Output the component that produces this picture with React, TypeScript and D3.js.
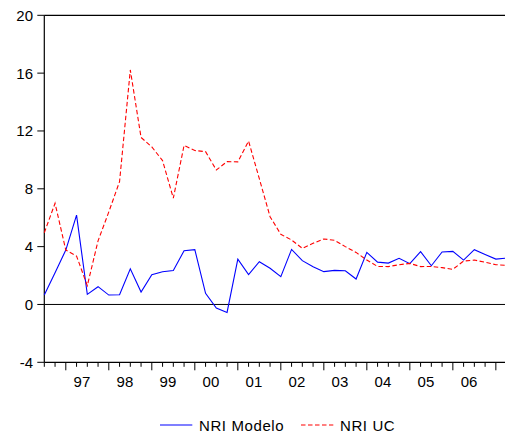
import React from "react";
import * as d3 from "d3";

// Quarterly observations, 1996Q3 through 2007Q2
const quarters: string[] = [
  "1996Q3", "1996Q4",
  "1997Q1", "1997Q2", "1997Q3", "1997Q4",
  "1998Q1", "1998Q2", "1998Q3", "1998Q4",
  "1999Q1", "1999Q2", "1999Q3", "1999Q4",
  "2000Q1", "2000Q2", "2000Q3", "2000Q4",
  "2001Q1", "2001Q2", "2001Q3", "2001Q4",
  "2002Q1", "2002Q2", "2002Q3", "2002Q4",
  "2003Q1", "2003Q2", "2003Q3", "2003Q4",
  "2004Q1", "2004Q2", "2004Q3", "2004Q4",
  "2005Q1", "2005Q2", "2005Q3", "2005Q4",
  "2006Q1", "2006Q2", "2006Q3", "2006Q4",
  "2007Q1", "2007Q2",
];

const nriModelo: number[] = [
  0.65, 2.2, 3.76, 6.18, 0.7, 1.23, 0.65, 0.67, 2.47, 0.86,
  2.06, 2.26, 2.35, 3.72, 3.79, 0.77, -0.25, -0.55, 3.14, 2.06,
  2.96, 2.5, 1.92, 3.81, 3.03, 2.61, 2.27, 2.36, 2.33, 1.76,
  3.6, 2.93, 2.86, 3.19, 2.82, 3.65, 2.68, 3.63, 3.67, 3.07,
  3.79, 3.46, 3.14, 3.21,
];

const nriUC: number[] = [
  4.96, 7.0, 3.76, 3.35, 1.3, 4.4, 6.4, 8.5, 16.22, 11.55,
  10.9, 9.95, 7.35, 11.0, 10.65, 10.57, 9.3, 9.88, 9.86, 11.3,
  8.7, 6.07, 4.85, 4.46, 3.88, 4.23, 4.53, 4.44, 4.0, 3.6,
  3.07, 2.63, 2.62, 2.75, 2.84, 2.62, 2.63, 2.55, 2.43, 3.0,
  3.07, 2.92, 2.75, 2.71,
];

const yTicks: number[] = [-4, 0, 4, 8, 12, 16, 20];
const yearLabels: string[] = ["97", "98", "99", "00", "01", "02", "03", "04", "05", "06"];

const seriesNames = ["NRI Modelo", "NRI UC"];

const W = 505;
const H = 436;
const left = 44.3;
const top = 15.3;
const bottom = 362.3;
const FONT = "'Liberation Sans', Arial, sans-serif";

export default function App() {
  const x = d3.scaleLinear().domain([0, quarters.length - 1]).range([left, 506.6]);
  const y = d3.scaleLinear().domain([-4, 20]).range([bottom, top]);

  const line = d3
    .line<number>()
    .x((_, i) => x(i))
    .y((d) => y(d));

  const right = x(quarters.length - 1);

  // First quarter of each year gets a long tick; year labels are centred over Q1..Q4
  const q1Index = quarters.map((q, i) => (q.endsWith("Q1") ? i : -1)).filter((i) => i >= 0);

  return (
    <svg
      width={W}
      height={H}
      style={{ position: "absolute", left: 0, top: 0, background: "#fff" }}
      fontFamily={FONT}
    >
      <rect x={0} y={0} width={W} height={H} fill="#fff" />
      {/* frame */}
      <line x1={left} x2={right} y1={top} y2={top} stroke="#000" strokeWidth={1.2} />
      <line x1={left} x2={left} y1={top} y2={bottom} stroke="#000" strokeWidth={1.2} />
      <line x1={left} x2={right} y1={bottom} y2={bottom} stroke="#000" strokeWidth={1.2} />
      <line x1={right} x2={right} y1={top} y2={bottom} stroke="#000" strokeWidth={1.2} />
      {/* zero line */}
      <line x1={left} x2={right} y1={y(0)} y2={y(0)} stroke="#000" strokeWidth={1} />

      {/* y axis */}
      {yTicks.map((t) => (
        <g key={t}>
          <line x1={left - 7} x2={left} y1={y(t)} y2={y(t)} stroke="#000" strokeWidth={1} />
          <text
            x={33}
            y={y(t)}
            textAnchor="end"
            dominantBaseline="central"
            fontSize={15}
            fill="#000"
          >
            {t}
          </text>
        </g>
      ))}

      {/* x axis ticks */}
      {quarters.map((q, i) => {
        const major = q.endsWith("Q1");
        return (
          <line
            key={q}
            x1={x(i)}
            x2={x(i)}
            y1={bottom}
            y2={bottom + (major ? 8 : 4.5)}
            stroke="#000"
            strokeWidth={1}
          />
        );
      })}
      {yearLabels.map((lab, k) => (
        <text
          key={lab}
          x={x(q1Index[k] + 1.5)}
          y={387}
          textAnchor="middle"
          fontSize={15}
          fill="#000"
        >
          {lab}
        </text>
      ))}

      {/* series */}
      <path d={line(nriModelo) ?? ""} fill="none" stroke="#0000ff" strokeWidth={1.1} />
      <path
        d={line(nriUC) ?? ""}
        fill="none"
        stroke="#ff0000"
        strokeWidth={1.1}
        strokeDasharray="4.5,2.5"
      />

      {/* legend */}
      <line x1={160} x2={192.3} y1={425} y2={425} stroke="#0000ff" strokeWidth={1.1} />
      <text x={199} y={431} fontSize={15} fill="#000" letterSpacing={0.6}>
        {seriesNames[0]}
      </text>
      <line
        x1={301}
        x2={333.3}
        y1={425}
        y2={425}
        stroke="#ff0000"
        strokeWidth={1.1}
        strokeDasharray="4.5,2.5"
      />
      <text x={340} y={431} fontSize={15} fill="#000" letterSpacing={0.6}>
        {seriesNames[1]}
      </text>
    </svg>
  );
}
